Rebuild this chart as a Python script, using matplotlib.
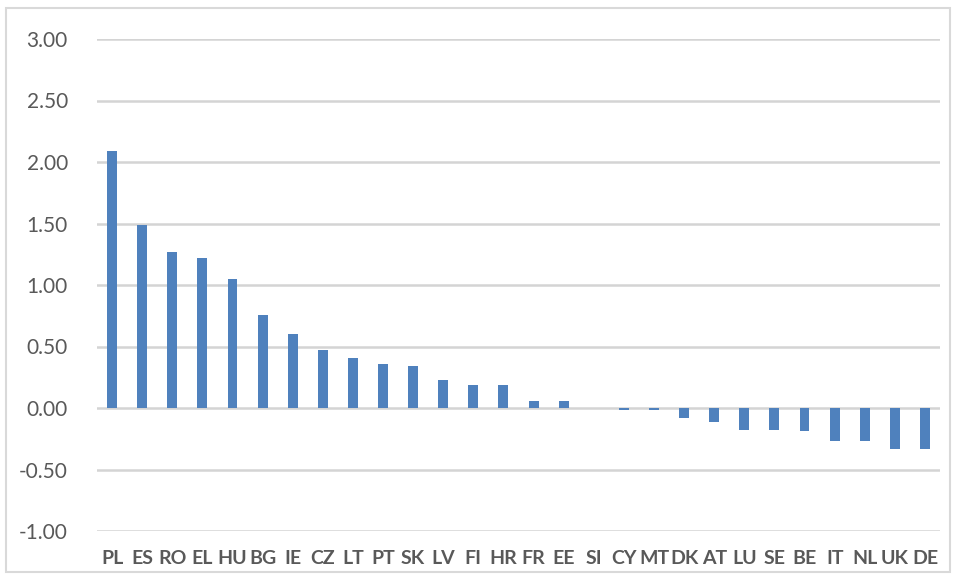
import matplotlib
matplotlib.use("Agg")
import matplotlib.pyplot as plt
from matplotlib.patches import Rectangle

countries = ["PL", "ES", "RO", "EL", "HU", "BG", "IE", "CZ", "LT", "PT", "SK", "LV", "FI", "HR",
             "FR", "EE", "SI", "CY", "MT", "DK", "AT", "LU", "SE", "BE", "IT", "NL", "UK", "DE"]
values = [2.09, 1.49, 1.27, 1.22, 1.05, 0.76, 0.60, 0.47, 0.41, 0.36, 0.34, 0.23, 0.19, 0.19,
          0.06, 0.06, 0.00, -0.02, -0.02, -0.08, -0.11, -0.18, -0.18, -0.19, -0.27, -0.27, -0.33, -0.33]
yticks = [-1.0, -0.5, 0.0, 0.5, 1.0, 1.5, 2.0, 2.5, 3.0]

fig = plt.figure(figsize=(9.56, 5.79), dpi=100)
ax = fig.add_axes([97/956, 1-531/579, (940-97)/956, (531-39)/579])

x = list(range(len(countries)))
ax.bar(x, values, width=0.33, color="#4f81bd", zorder=3)

ax.set_xlim(-0.5, len(countries) - 0.5)
ax.set_ylim(-1.0, 3.0)
ax.set_yticks(yticks)
ax.set_yticklabels([f"{v:.2f}" for v in yticks], fontsize=15, color="#595959", family="Lato")
ax.set_xticks(x)
ax.set_xticklabels(countries, fontsize=14, color="#595959", family="Lato", fontweight="bold")
ax.tick_params(axis="y", length=0, pad=21)
ax.tick_params(axis="x", length=0, pad=14)
ax.grid(axis="y", color="#d4d4d4", linewidth=1.8, zorder=0)
for s in ax.spines.values():
    s.set_visible(False)

fig.patches.append(Rectangle((6/956, 1-572/579), (950-6)/956, (572-8)/579, transform=fig.transFigure,
                             fill=False, edgecolor="#d9d9d9", linewidth=1.5))

fig.savefig("out.png", dpi=100)
